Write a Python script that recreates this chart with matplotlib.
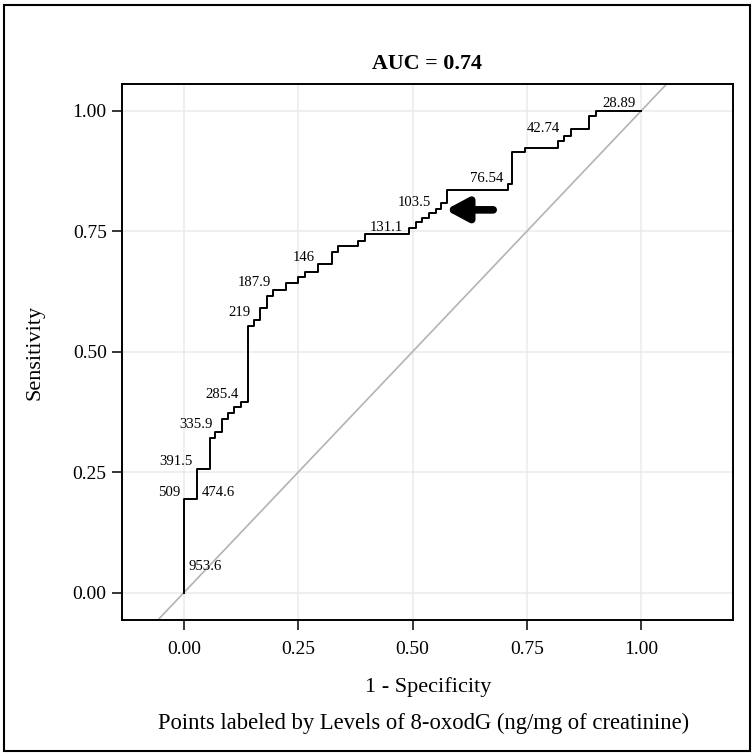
import numpy as np
import matplotlib
matplotlib.use("Agg")
import matplotlib.pyplot as plt
from matplotlib.patches import Rectangle

plt.rcParams["font.family"] = ["Liberation Serif", "DejaVu Serif"]

# ROC step corners (end of each horizontal run)
fpr = [0.0, 0.028, 0.0575, 0.068, 0.084, 0.0975, 0.11, 0.125, 0.14, 0.154,
       0.167, 0.181, 0.196, 0.224, 0.25, 0.265, 0.294, 0.323, 0.338, 0.38,
       0.396, 0.493, 0.507, 0.521, 0.536, 0.551, 0.562, 0.575, 0.708, 0.718,
       0.746, 0.817, 0.831, 0.846, 0.886, 0.901, 1.0]
tpr = [0.0, 0.194, 0.256, 0.320, 0.334, 0.360, 0.372, 0.385, 0.396, 0.553,
       0.566, 0.590, 0.616, 0.628, 0.642, 0.654, 0.666, 0.681, 0.707, 0.719,
       0.730, 0.744, 0.757, 0.768, 0.778, 0.787, 0.796, 0.808, 0.835, 0.848,
       0.913, 0.923, 0.937, 0.948, 0.962, 0.988, 1.0]

# cutoff labels (8-oxodG levels) and where they sit
cut_labels = ["953.6", "509", "474.6", "391.5", "335.9", "285.4", "219",
              "187.9", "146", "131.1", "103.5", "76.54", "42.74", "28.89"]
cut_x = [0.0465, -0.008, 0.075, 0.0197, 0.027, 0.083, 0.1215,
         0.154, 0.263, 0.442, 0.505, 0.661, 0.786, 0.950]
cut_y = [0.054, 0.208, 0.208, 0.272, 0.349, 0.412, 0.581,
         0.643, 0.696, 0.758, 0.809, 0.860, 0.962, 1.015]
cut_ha = ["center", "right", "center", "right", "center", "center", "center",
          "center", "center", "center", "center", "center", "center", "center"]

auc = 0.74
ticks = [0.0, 0.25, 0.5, 0.75, 1.0]
tick_labels = ["0.00", "0.25", "0.50", "0.75", "1.00"]

# arrow marking the chosen cutoff
arrow_tip = (0.572, 0.794)
arrow_tail = (0.676, 0.794)

fig = plt.figure(figsize=(7.55, 7.55), dpi=100)
ax = fig.add_axes([122 / 755, 1 - 620 / 755, 611 / 755, 536 / 755])

ax.set_xlim(-0.135, 1.2)
ax.set_ylim(-0.0566, 1.055)

ax.grid(True, color="#ebebeb", linewidth=1.1)
ax.set_axisbelow(True)

# reference diagonal spanning the whole panel
ax.axline((0, 0), (1, 1), color="#b3b3b3", linewidth=1.2, zorder=2)

ax.step(fpr, tpr, where="pre", color="black", linewidth=1.4, zorder=3)

for lab, x, y, ha in zip(cut_labels, cut_x, cut_y, cut_ha):
    ax.text(x, y, lab, ha=ha, va="center", fontsize=10.6, zorder=4)

ax.annotate("", xy=arrow_tip, xytext=arrow_tail,
            arrowprops=dict(arrowstyle="-|>,head_length=0.65,head_width=0.35",
                            lw=5.5, color="black", mutation_scale=20,
                            shrinkA=0, shrinkB=0, capstyle="round",
                            joinstyle="round"), zorder=5)

ax.set_xticks(ticks)
ax.set_xticklabels(tick_labels)
ax.set_yticks(ticks)
ax.set_yticklabels(tick_labels)
ax.tick_params(length=7, width=1.1, labelsize=14, color="black")
ax.tick_params(axis="x", pad=8)
ax.tick_params(axis="y", pad=4)
for sp in ax.spines.values():
    sp.set_linewidth(1.4)

fig.text(427 / 755, 1 - 64 / 755, f"AUC = {auc}", ha="center", va="center",
         fontsize=15.8, fontweight="bold")
fig.text(428 / 755, 1 - 687 / 755, "1 - Specificity", ha="center",
         va="center", fontsize=16)
fig.text(424 / 755, 1 - 723 / 755,
         "Points labeled by Levels of 8-oxodG (ng/mg of creatinine)",
         ha="center", va="center", fontsize=16.3)
fig.text(35 / 755, 1 - 352 / 755, "Sensitivity", ha="center", va="center",
         rotation=90, fontsize=16)

# outer frame around the whole figure
fig.patches.append(Rectangle((4 / 755, 4 / 755), 746 / 755, 746 / 755,
                             transform=fig.transFigure, fill=False,
                             edgecolor="black", linewidth=1.5))

fig.savefig("out.png", dpi=100)
